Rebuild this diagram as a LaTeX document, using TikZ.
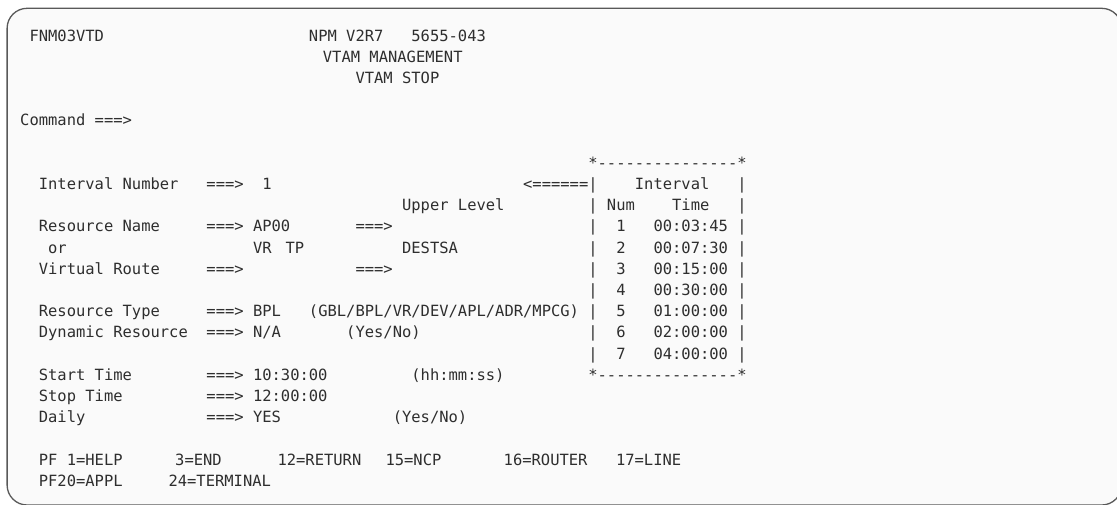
\documentclass[tikz,border=0pt]{standalone}
\usepackage{fontspec}
\newfontfamily\scr{DejaVu Sans Mono}
\def\dsh{-\kern0pt}
\def\dline{*\dsh\dsh\dsh\dsh\dsh\dsh\dsh\dsh\dsh\dsh\dsh\dsh\dsh\dsh\dsh*}
\tikzset{
  txt/.style={anchor=base west, inner sep=0pt, outer sep=0pt,
    font=\scr\fontsize{15.47}{18}\selectfont, text=black!82},
  frame/.style={rounded corners=20pt, draw=black!65, line width=1.3pt, fill=black!2}
}
% grid-placed text: name, column, row, text
\newcommand\T[4]{\node[txt] (#1) at ({20.2+9.314*(#2)},{41+21.2*(#3)}) {#4};}
% absolute x placed text: name, x, row, text
\newcommand\A[4]{\node[txt] (#1) at ({#2},{41+21.2*(#3)}) {#4};}
\begin{document}
\begin{tikzpicture}[x=1pt,y=-1pt]
\useasboundingbox (0,0) rectangle (1117,504);
\begin{scope}
\clip (0,0) rectangle (1117,504);
\fill[white] (0,0) rectangle (1117,504);
\draw[frame] (7.1,8.3) rectangle (1121.7,505);
\end{scope}
% header
\T{fnm}{1}{0}{FNM03VTD}
\T{npm}{31}{0}{NPM V2R7}
\T{ver}{42}{0}{5655-043}
\T{vmgmt}{32.5}{1}{VTAM MANAGEMENT}
\T{vstop}{36}{2}{VTAM STOP}
\T{cmd}{0}{4}{Command ===>}
% interval table
\T{boxtop}{61}{6}{\dline}
\T{larrow}{54}{7}{<======|~~~~Interval~~~|}
\T{thead}{61}{8}{|~Num~~~~Time~~~|}
\T{tr1}{61}{9}{|~~1~~~00:03:45~|}
\T{tr2}{61}{10}{|~~2~~~00:07:30~|}
\T{tr3}{61}{11}{|~~3~~~00:15:00~|}
\T{tr4}{61}{12}{|~~4~~~00:30:00~|}
\T{tr5}{61}{13}{|~~5~~~01:00:00~|}
\T{tr6}{61}{14}{|~~6~~~02:00:00~|}
\T{tr7}{61}{15}{|~~7~~~04:00:00~|}
\T{boxbot}{61}{16}{\dline}
% fields
\T{inum}{2}{7}{Interval Number}
\T{inumv}{20}{7}{===>~~1}
\T{upper}{41}{8}{Upper Level}
\T{rname}{2}{9}{Resource Name}
\T{rnamev}{20}{9}{===> AP00}
\T{ulev}{36}{9}{===>}
\T{or}{3}{10}{or}
\T{vr}{25}{10}{VR}
\T{tp}{28.5}{10}{TP}
\T{dest}{41}{10}{DESTSA}
\T{vroute}{2}{11}{Virtual Route}
\T{vroutev}{20}{11}{===>}
\T{dsav}{36}{11}{===>}
\T{rtype}{2}{13}{Resource Type}
\T{rtypev}{20}{13}{===> BPL}
\T{rtypeh}{31}{13}{(GBL/BPL/VR/DEV/APL/ADR/MPCG)}
\T{dyn}{2}{14}{Dynamic Resource}
\T{dynv}{20}{14}{===> N/A}
\T{dynh}{35}{14}{(Yes/No)}
\T{start}{2}{16}{Start Time}
\T{startv}{20}{16}{===> 10:30:00}
\T{starth}{42}{16}{(hh:mm:ss)}
\T{stop}{2}{17}{Stop Time}
\T{stopv}{20}{17}{===> 12:00:00}
\T{daily}{2}{18}{Daily}
\T{dailyv}{20}{18}{===> YES}
\T{dailyh}{40}{18}{(Yes/No)}
% PF keys
\T{pf1}{2}{20}{PF 1=HELP}
\A{pf3}{175.2}{20}{3=END}
\A{pf12}{277.5}{20}{12=RETURN}
\A{pf15}{385.5}{20}{15=NCP}
\A{pf16}{503.7}{20}{16=ROUTER}
\A{pf17}{616}{20}{17=LINE}
\T{pf20}{2}{21}{PF20=APPL}
\A{pf24}{168.5}{21}{24=TERMINAL}
\end{tikzpicture}
\end{document}
